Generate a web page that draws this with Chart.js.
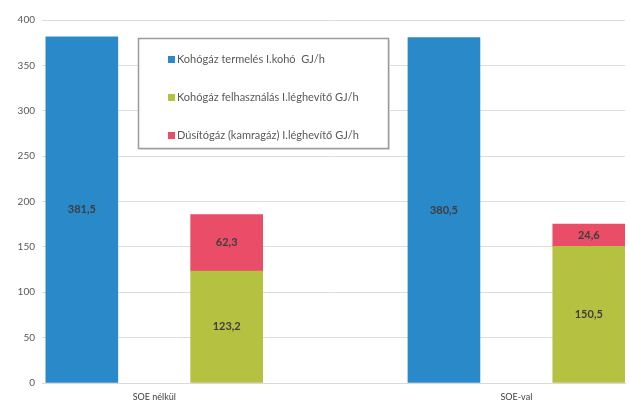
<!DOCTYPE html>
<html>
<head>
<meta charset="utf-8">
<script src="https://cdn.jsdelivr.net/npm/chart.js@4/dist/chart.umd.min.js"></script>
<style>
html,body{margin:0;padding:0;background:#fff;}
#wrap{width:630px;height:408px;}
</style>
</head>
<body>
<div id="wrap"><canvas id="c" width="630" height="408"></canvas></div>
<script>
// ---- data ----
const categories = ['SOE nélkül', 'SOE-val'];
const seriesNames = [
  'Kohógáz termelés I.kohó  GJ/h',
  'Kohógáz felhasználás I.léghevítő GJ/h',
  'Dúsítógáz (kamragáz) I.léghevítő GJ/h'
];
const kohoTermeles = [381.5, 380.5];
const kohoFelhasznalas = [123.2, 150.5];
const dusitogaz = [62.3, 24.6];
const yTicks = [0, 50, 100, 150, 200, 250, 300, 350, 400];

const colors = ['#2a89c9', '#b5c140', '#e94d67'];
const FONT = 'Lato, "Liberation Sans", sans-serif';

// bar positions: each category index with left/right offset for the two stacks
const OFF = 0.2;
const pts = (arr, side) => arr.map((v, i) => ({ x: i + side * OFF, y: v }));

const fmt = v => v.toFixed(1).replace('.', ',');

const labelPlugin = {
  id: 'barLabels',
  afterDatasetsDraw(chart) {
    const ctx = chart.ctx;
    ctx.save();
    ctx.font = 'bold 11px ' + FONT;
    ctx.fillStyle = '#3e3e3e';
    ctx.textAlign = 'center';
    ctx.textBaseline = 'middle';
    chart.data.datasets.forEach((ds, di) => {
      const meta = chart.getDatasetMeta(di);
      meta.data.forEach((el, i) => {
        const y = (el.y + el.base) / 2;
        ctx.fillText(fmt(ds.data[i].y), el.x, y);
      });
    });
    ctx.restore();
  }
};

const legendPlugin = {
  id: 'boxLegend',
  afterDraw(chart) {
    const ctx = chart.ctx;
    const x0 = 138, y0 = 38, w = 250, h = 110;
    ctx.save();
    ctx.fillStyle = '#e6e6e6';
    ctx.fillRect(x0 + 2, y0 + 2, w, h);
    ctx.fillStyle = '#ffffff';
    ctx.fillRect(x0, y0, w, h);
    ctx.strokeStyle = '#9a9a9a';
    ctx.lineWidth = 1.5;
    ctx.strokeRect(x0 + 0.5, y0 + 0.5, w, h);
    ctx.font = '11px ' + FONT;
    ctx.textBaseline = 'middle';
    ctx.textAlign = 'left';
    const rows = [59, 97, 135];
    seriesNames.forEach((name, k) => {
      ctx.fillStyle = colors[k];
      ctx.fillRect(168, rows[k] - 3, 7, 7);
      ctx.fillStyle = '#595959';
      ctx.fillText(name, 177, rows[k] + 0.5);
    });
    ctx.restore();
  }
};

new Chart(document.getElementById('c'), {
  type: 'bar',
  data: {
    datasets: [
      { label: seriesNames[0], data: pts(kohoTermeles, -1), backgroundColor: colors[0], stack: 'a' },
      { label: seriesNames[1], data: pts(kohoFelhasznalas, 1), backgroundColor: colors[1], stack: 'b' },
      { label: seriesNames[2], data: pts(dusitogaz, 1), backgroundColor: colors[2], stack: 'b' }
    ]
  },
  options: {
    responsive: false,
    devicePixelRatio: 1,
    animation: false,
    layout: { padding: { top: 20, right: 5, left: 0, bottom: 0 } },
    datasets: { bar: { grouped: false, barThickness: 72, borderWidth: 0 } },
    plugins: { legend: { display: false }, tooltip: { enabled: false } },
    scales: {
      x: {
        type: 'linear',
        offset: false,
        min: -0.31,
        max: 1.30,
        stacked: true,
        afterBuildTicks: s => { s.ticks = categories.map((c, i) => ({ value: i })); },
        afterFit: s => { s.height = 25; },
        grid: { display: false, drawTicks: false, offset: false },
        border: { display: true, color: '#d9d9d9' },
        ticks: {
          padding: 9,
          color: '#404040',
          font: { family: FONT, size: 9 },
          callback: v => categories[v]
        }
      },
      y: {
        stacked: true,
        min: 0,
        max: 400,
        afterBuildTicks: s => { s.ticks = yTicks.map(v => ({ value: v })); },
        afterFit: s => { s.width = 42; },
        grid: { color: '#dcdcdc', drawTicks: false },
        border: { display: false },
        ticks: {
          padding: 7,
          color: '#595959',
          font: { family: FONT, size: 10 }
        }
      }
    }
  },
  plugins: [labelPlugin, legendPlugin]
});
</script>
</body>
</html>
